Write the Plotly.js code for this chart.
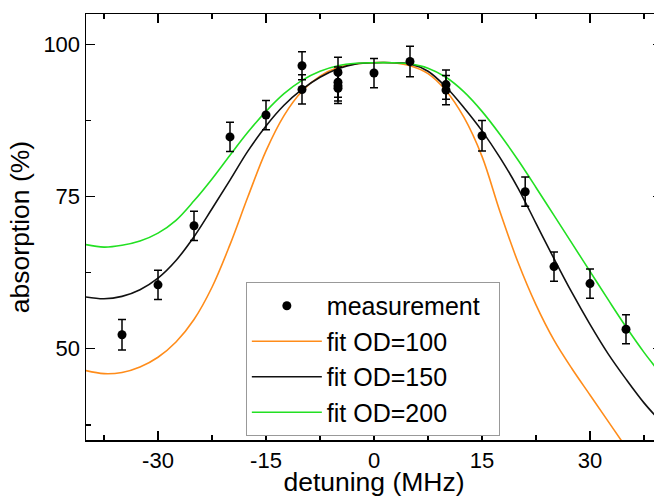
<!DOCTYPE html>
<html>
<head>
<meta charset="utf-8">
<script src="https://cdn.plot.ly/plotly-3.0.1.min.js"></script>
<style>
html, body { margin: 0; padding: 0; overflow: hidden; background: #fff; }
#chart { width: 664px; height: 497px; }
</style>
</head>
<body>
<div id="chart"></div>
<script>
// Measurement data (detuning in MHz, absorption in %)
const measX = [-35, -30, -25, -20, -15, -10, -10, -5, -5, -5, -5, 0, 5, 10, 10, 15, 21, 25, 30, 35];
const measY = [52.3, 60.5, 70.2, 84.8, 88.4, 96.5, 92.6, 95.4, 93.8, 93.2, 92.8, 95.3, 97.2, 93.4, 92.5, 85.0, 75.8, 63.5, 60.7, 53.2];
const measErr = [2.5, 2.4, 2.4, 2.4, 2.4, 2.3, 2.4, 2.5, 2.5, 2.5, 2.5, 2.4, 2.5, 2.4, 2.4, 2.5, 2.4, 2.4, 2.4, 2.4];

// Fit curves
const fitX = [-40, -37.5, -35, -32.5, -30, -27.5, -25, -22.5, -20, -17.5, -15, -12.5, -10, -7.5, -5, -2.5, 0,
              2.5, 5, 7.5, 10, 12.5, 15, 17.5, 20, 22.5, 25, 27.5, 30, 32.5, 35, 37.5, 40];
const fitOD100 = [46.4, 45.9, 46.1, 47.0, 48.6, 51.1, 54.8, 60.1, 67.1, 75.0, 82.5, 88.3, 92.3, 94.8, 96.2, 96.8, 97.0,
                  97.0, 96.5, 95.2, 92.4, 88.0, 81.6, 72.5, 64.2, 57.2, 51.4, 46.7, 42.4, 38.1, 33.8, 29.6, 25.5];
const fitOD150 = [58.5, 58.2, 58.6, 59.7, 61.6, 64.5, 68.4, 73.0, 77.7, 82.5, 86.6, 90.0, 92.6, 94.6, 96.0, 96.8, 97.0,
                  97.0, 96.8, 95.6, 93.0, 89.6, 85.8, 81.4, 76.4, 70.6, 64.8, 59.2, 54.0, 49.2, 45.0, 41.1, 37.8];
const fitOD200 = [67.1, 66.7, 67.0, 67.7, 69.0, 71.1, 74.3, 77.9, 81.8, 85.6, 89.0, 91.9, 94.1, 95.6, 96.5, 96.9, 97.0,
                  97.0, 96.8, 96.1, 94.6, 92.2, 89.0, 85.2, 81.0, 76.5, 71.9, 67.3, 62.7, 58.1, 53.6, 49.4, 45.6];

const xTicks = [-30, -15, 0, 15, 30];
const yTicks = [50, 75, 100];

const FONT = '"Liberation Sans", Arial, sans-serif';
const PAD = '\u00a0\u00a0';

const traces = [
  {
    x: fitX, y: fitOD100, type: 'scatter', mode: 'lines', name: 'fit OD=100',
    line: { color: '#ff8c1a', width: 1.6, shape: 'spline', smoothing: 1 },
    legendrank: 2
  },
  {
    x: fitX, y: fitOD150, type: 'scatter', mode: 'lines', name: 'fit OD=150',
    line: { color: '#111111', width: 1.6, shape: 'spline', smoothing: 1 },
    legendrank: 3
  },
  {
    x: fitX, y: fitOD200, type: 'scatter', mode: 'lines', name: 'fit OD=200',
    line: { color: '#22e022', width: 1.6, shape: 'spline', smoothing: 1 },
    legendrank: 4
  },
  {
    x: measX, y: measY, type: 'scatter', mode: 'markers', name: 'measurement' + PAD,
    marker: { color: '#000', size: 9 },
    error_y: { type: 'data', array: measErr, visible: true, color: '#000', thickness: 1.5, width: 4 },
    legendrank: 1
  }
];

const axisCommon = {
  showgrid: false, zeroline: false,
  showline: true, linecolor: '#000', linewidth: 1.5,
  mirror: 'ticks',
  ticks: 'inside', ticklen: 9, tickwidth: 1.5, tickcolor: '#000',
  tickfont: { family: FONT, size: 22, color: '#000' }
};

const layout = {
  width: 664, height: 497,
  margin: { l: 86, r: 2, t: 14, b: 57 },
  paper_bgcolor: '#fff', plot_bgcolor: '#fff',
  font: { family: FONT, color: '#000' },
  xaxis: Object.assign({}, axisCommon, {
    range: [-40, 40],
    tickmode: 'array', tickvals: xTicks, ticktext: xTicks.map(String),
    minor: { dtick: 7.5, tick0: 0, ticks: 'inside', ticklen: 5, tickwidth: 1.5, tickcolor: '#000' },
    title: { text: 'detuning (MHz)', font: { family: FONT, size: 26.5, color: '#000' }, standoff: 7 }
  }),
  yaxis: Object.assign({}, axisCommon, {
    range: [35, 105],
    tickmode: 'array', tickvals: yTicks, ticktext: yTicks.map(String),
    minor: { dtick: 12.5, tick0: 0, ticks: 'inside', ticklen: 5, tickwidth: 1.5, tickcolor: '#000' },
    title: { text: 'absorption (%)', font: { family: FONT, size: 26.5, color: '#000' }, standoff: 6 }
  }),
  showlegend: true,
  legend: {
    x: 0.2775, y: 0.3709, xanchor: 'left', yanchor: 'top',
    bgcolor: '#fff', bordercolor: '#999', borderwidth: 1,
    font: { family: FONT, size: 25, color: '#000' },
    itemwidth: 70,
    tracegroupgap: 0
  }
};

Plotly.newPlot('chart', traces, layout, { displayModeBar: false, staticPlot: true });
</script>
</body>
</html>
